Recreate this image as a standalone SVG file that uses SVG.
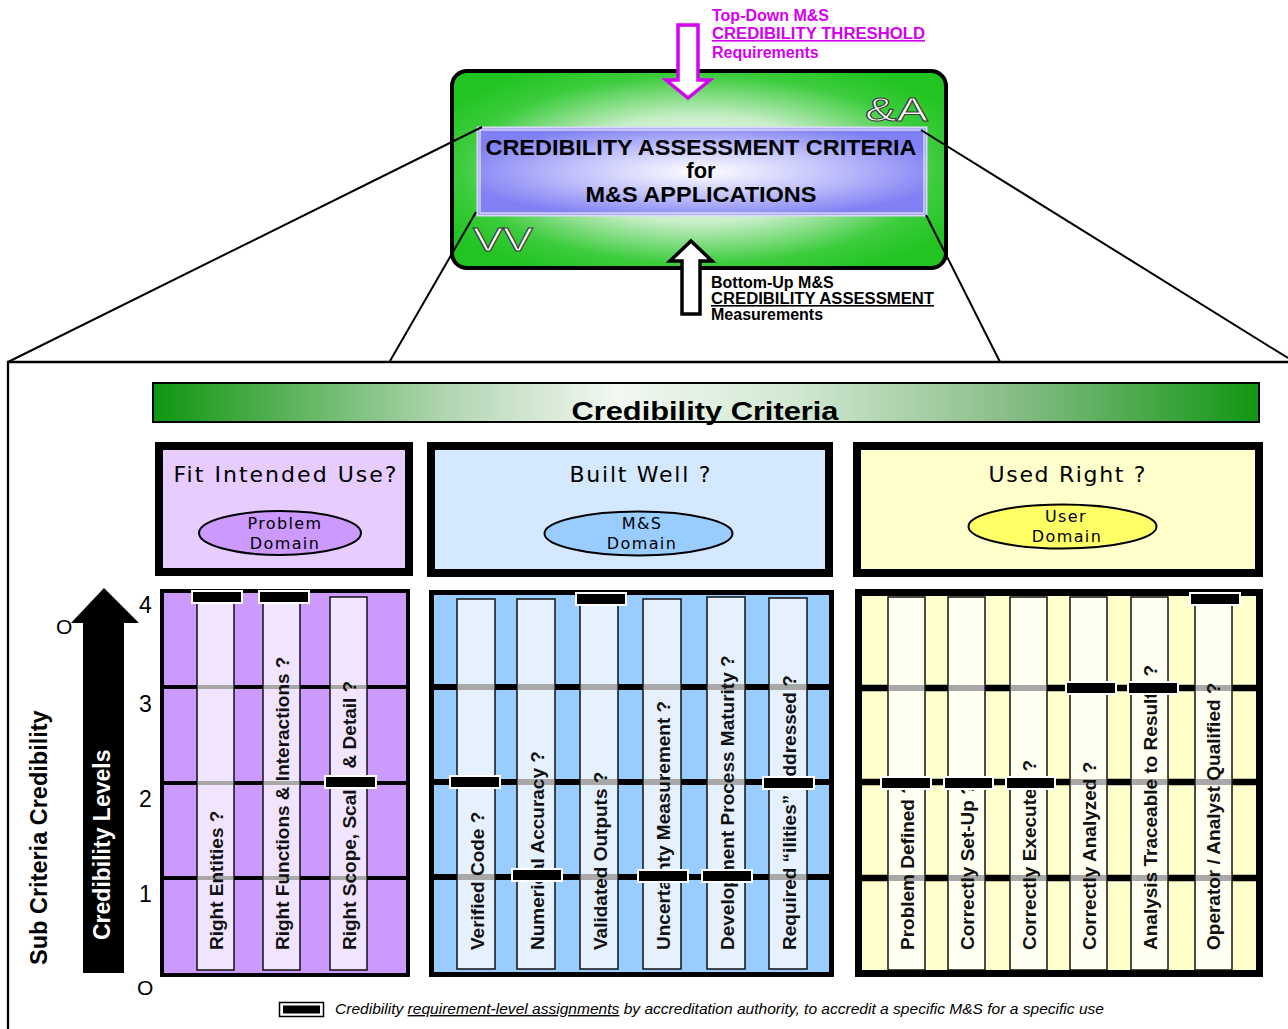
<svg xmlns="http://www.w3.org/2000/svg" width="1288" height="1029" viewBox="0 0 1288 1029">
<defs>
<radialGradient id="gGreen" cx="50%" cy="50%" r="60%">
<stop offset="0" stop-color="#ffffff"/>
<stop offset="0.45" stop-color="#c8eec8"/>
<stop offset="0.8" stop-color="#3ccc3c"/>
<stop offset="1" stop-color="#22c422"/>
</radialGradient>
<radialGradient id="gBlue" cx="50%" cy="50%" r="55%">
<stop offset="0" stop-color="#ffffff"/>
<stop offset="0.5" stop-color="#c4c4fc"/>
<stop offset="1" stop-color="#8080f4"/>
</radialGradient>
<linearGradient id="gBar" x1="0" y1="0" x2="1" y2="0">
<stop offset="0" stop-color="#0f960f"/>
<stop offset="0.27" stop-color="#b4d6b4"/>
<stop offset="0.42" stop-color="#f2f8f2"/>
<stop offset="0.58" stop-color="#d2e8d2"/>
<stop offset="0.78" stop-color="#86bc86"/>
<stop offset="1" stop-color="#129612"/>
</linearGradient>
</defs>
<style>
.b{font-family:"Liberation Sans",Arial,sans-serif;font-weight:bold}
.v{font-family:"DejaVu Sans",Verdana,sans-serif}
.col text{font-family:"Liberation Sans",Arial,sans-serif;font-weight:bold;font-size:19px;fill:#111}
.mk{fill:#000;stroke:#fff;stroke-width:2}
.hl{stroke:#000}
.gr{fill:#a8a8a8}
.pc{fill:#f1e4ff;stroke:#111;stroke-width:1.5}
.bc{fill:#e6f1ff;stroke:#111;stroke-width:1.5}
.yc{fill:#fffff2;stroke:#111;stroke-width:1.5}
.mag{fill:#d400f0;font-size:16px}
.blk{fill:#000;font-size:16px}
</style>

<!-- top central node -->
<g id="assessment-box">
<rect x="452" y="71" width="494" height="197" rx="15" fill="url(#gGreen)" stroke="#000" stroke-width="4"/>
<rect x="477.5" y="127.5" width="449" height="88" fill="url(#gBlue)" stroke="#d8d8ff" stroke-width="2"/>
<rect x="480" y="130" width="444" height="83" fill="none" stroke="#ffffff" stroke-width="1"/>
<text class="b" x="701" y="155" font-size="22" text-anchor="middle" textLength="431" lengthAdjust="spacingAndGlyphs">CREDIBILITY ASSESSMENT CRITERIA</text>
<text class="b" x="701" y="178" font-size="22" text-anchor="middle">for</text>
<text class="b" x="701" y="202" font-size="22" text-anchor="middle" textLength="231" lengthAdjust="spacingAndGlyphs">M&amp;S APPLICATIONS</text>
<text x="865" y="121" font-family="Liberation Sans,Arial,sans-serif" font-size="34" fill="#fff" stroke="#3a3a3a" stroke-width="1" textLength="63" lengthAdjust="spacingAndGlyphs">&amp;A</text>
<text x="473" y="251" font-family="Liberation Sans,Arial,sans-serif" font-size="34" fill="#fff" stroke="#3a3a3a" stroke-width="1" textLength="60" lengthAdjust="spacingAndGlyphs">VV</text>
</g>

<!-- connectors -->
<g id="connectors" fill="none" stroke="#000" stroke-width="2">
<line x1="482" y1="127" x2="8" y2="362"/>
<line x1="476" y1="212" x2="390" y2="361"/>
<line x1="921" y1="130" x2="1288" y2="358"/>
<line x1="926" y1="215" x2="1000" y2="362"/>
<path d="M8,1029 V362 H1288" stroke-width="2.3"/>
</g>

<g id="top-down-arrow">
<polygon points="678,25 698,25 698,80 710,80 688,98 666,80 678,80" fill="#fff" stroke="#d400f0" stroke-width="3.5" stroke-linejoin="miter"/>
<text class="b mag" x="712" y="21">Top-Down M&amp;S</text>
<text class="b mag" x="712" y="39" text-decoration="underline" textLength="213" lengthAdjust="spacingAndGlyphs">CREDIBILITY THRESHOLD</text>
<text class="b mag" x="712" y="58">Requirements</text>
</g>

<g id="bottom-up-arrow">
<polygon points="691,241 712,261 700,261 700,314 682,314 682,261 670,261" fill="#fff" stroke="#000" stroke-width="3.5"/>
<text class="b blk" x="711" y="288" font-size="15">Bottom-Up M&amp;S</text>
<text class="b blk" x="711" y="304" text-decoration="underline" textLength="223" lengthAdjust="spacingAndGlyphs">CREDIBILITY ASSESSMENT</text>
<text class="b blk" x="711" y="320" font-size="15">Measurements</text>
</g>

<g id="criteria-bar">
<rect x="153" y="383" width="1106" height="39" fill="url(#gBar)" stroke="#000" stroke-width="2"/>
<text class="b" x="705" y="420" font-size="26" text-anchor="middle" textLength="267" lengthAdjust="spacingAndGlyphs">Credibility Criteria</text>
</g>

<!-- header boxes -->
<g id="fit-intended-use">
<rect x="159" y="446" width="250" height="126" fill="#e6ccff" stroke="#000" stroke-width="8"/>
<text class="v" x="285" y="482" font-size="22" text-anchor="middle" textLength="223" lengthAdjust="spacing">Fit Intended Use?</text>
<ellipse cx="280" cy="533" rx="81" ry="22" fill="#cc99ff" stroke="#000" stroke-width="2"/>
<text class="v" x="285" y="529" font-size="16" text-anchor="middle" letter-spacing="1.4">Problem</text>
<text class="v" x="285" y="549" font-size="16" text-anchor="middle" letter-spacing="1.4">Domain</text>
</g>
<g id="built-well">
<rect x="431" y="446" width="398" height="127" fill="#d4e8ff" stroke="#000" stroke-width="8"/>
<text class="v" x="640" y="482" font-size="22" text-anchor="middle" textLength="141" lengthAdjust="spacing">Built Well ?</text>
<ellipse cx="638.5" cy="533.5" rx="94" ry="22" fill="#99ccff" stroke="#000" stroke-width="2"/>
<text class="v" x="642" y="529" font-size="16" text-anchor="middle" letter-spacing="1.4">M&amp;S</text>
<text class="v" x="642" y="549" font-size="16" text-anchor="middle" letter-spacing="1.4">Domain</text>
</g>
<g id="used-right">
<rect x="857" y="446" width="402" height="127" fill="#ffffcc" stroke="#000" stroke-width="8"/>
<text class="v" x="1067" y="482" font-size="22" text-anchor="middle" textLength="157" lengthAdjust="spacing">Used Right ?</text>
<ellipse cx="1062.5" cy="526.5" rx="94" ry="22" fill="#ffff66" stroke="#000" stroke-width="2"/>
<text class="v" x="1066" y="522" font-size="16" text-anchor="middle" letter-spacing="1.4">User</text>
<text class="v" x="1067" y="542" font-size="16" text-anchor="middle" letter-spacing="1.4">Domain</text>
</g>

<!-- left axis -->
<g id="axis">
<text x="56" y="634" font-family="Liberation Sans,Arial,sans-serif" font-size="21">O</text>
<polygon points="83,973 83,623 71,623 104,588 139,623 124,623 124,973" fill="#000"/>
<text class="b" transform="translate(110,940) rotate(-90)" font-size="23" fill="#fff">Credibility Levels</text>
<text class="b" transform="translate(47,965) rotate(-90)" font-size="23.5" fill="#000">Sub Criteria Credibility</text>
<g font-family="Liberation Sans,Arial,sans-serif" font-size="23" fill="#000">
<text x="139" y="613">4</text>
<text x="139" y="712">3</text>
<text x="139" y="807">2</text>
<text x="139" y="902">1</text>
</g>
<text x="137" y="995" font-family="Liberation Sans,Arial,sans-serif" font-size="21">O</text>
</g>

<!-- purple grid -->
<g id="problem-domain-grid" class="col">
<rect x="162" y="591" width="246" height="384" fill="#cc99ff" stroke="#000" stroke-width="4"/>
<g class="hl" stroke-width="4"><line x1="162" y1="687" x2="408" y2="687"/><line x1="162" y1="783" x2="408" y2="783"/><line x1="162" y1="878" x2="408" y2="878"/></g>
<rect class="pc" x="197" y="597" width="37" height="373"/>
<rect class="pc" x="263" y="597" width="37" height="373"/>
<rect class="pc" x="330" y="597" width="37" height="373"/>
<g class="gr">
<rect x="198" y="685" width="35" height="4"/><rect x="264" y="685" width="35" height="4"/><rect x="331" y="685" width="35" height="4"/>
<rect x="198" y="781" width="35" height="4"/><rect x="264" y="781" width="35" height="4"/><rect x="331" y="781" width="35" height="4"/>
<rect x="198" y="876" width="35" height="4"/><rect x="264" y="876" width="35" height="4"/><rect x="331" y="876" width="35" height="4"/>
</g>
<text transform="translate(223,950) rotate(-90)">Right Entities ?</text>
<text transform="translate(289,950) rotate(-90)">Right Functions &amp; Interactions ?</text>
<text transform="translate(356,950) rotate(-90)">Right Scope, Scale, &amp; Detail ?</text>
<rect class="mk" x="192" y="591" width="50" height="12"/>
<rect class="mk" x="259" y="591" width="50" height="12"/>
<rect class="mk" x="325" y="776" width="51" height="12"/>
</g>

<!-- blue grid -->
<g id="ms-domain-grid" class="col">
<rect x="431.5" y="592.5" width="400" height="382" fill="#99ccff" stroke="#000" stroke-width="5"/>
<g class="hl" stroke-width="6"><line x1="432" y1="687" x2="831" y2="687"/><line x1="432" y1="782" x2="831" y2="782"/><line x1="432" y1="877" x2="831" y2="877"/></g>
<rect class="bc" x="457" y="599" width="38" height="370"/>
<rect class="bc" x="517" y="599" width="38" height="370"/>
<rect class="bc" x="580" y="599" width="38" height="370"/>
<rect class="bc" x="643" y="599" width="38" height="370"/>
<rect class="bc" x="707" y="597" width="38" height="372"/>
<rect class="bc" x="769" y="598" width="38" height="371"/>
<g class="gr">
<rect x="458" y="684" width="36" height="6"/><rect x="518" y="684" width="36" height="6"/><rect x="581" y="684" width="36" height="6"/><rect x="644" y="684" width="36" height="6"/><rect x="708" y="684" width="36" height="6"/><rect x="770" y="684" width="36" height="6"/>
<rect x="458" y="779" width="36" height="6"/><rect x="518" y="779" width="36" height="6"/><rect x="581" y="779" width="36" height="6"/><rect x="644" y="779" width="36" height="6"/><rect x="708" y="779" width="36" height="6"/><rect x="770" y="779" width="36" height="6"/>
<rect x="458" y="874" width="36" height="6"/><rect x="518" y="874" width="36" height="6"/><rect x="581" y="874" width="36" height="6"/><rect x="644" y="874" width="36" height="6"/><rect x="708" y="874" width="36" height="6"/><rect x="770" y="874" width="36" height="6"/>
</g>
<text transform="translate(484,950) rotate(-90)">Verified Code ?</text>
<text transform="translate(544,950) rotate(-90)">Numerical Accuracy ?</text>
<text transform="translate(607,950) rotate(-90)">Validated Outputs ?</text>
<text transform="translate(670,950) rotate(-90)">Uncertainty Measurement ?</text>
<text transform="translate(734,950) rotate(-90)">Development Process Maturity ?</text>
<text transform="translate(796,950) rotate(-90)">Required “ilities” Addressed ?</text>
<rect class="mk" x="450" y="776" width="50" height="12"/>
<rect class="mk" x="512" y="869" width="50" height="12"/>
<rect class="mk" x="576" y="593" width="50" height="12"/>
<rect class="mk" x="638" y="870" width="50" height="12"/>
<rect class="mk" x="702" y="870" width="50" height="12"/>
<rect class="mk" x="763" y="777" width="51" height="12"/>
</g>

<!-- yellow grid -->
<g id="user-domain-grid" class="col">
<rect x="858.5" y="592.5" width="401" height="381" fill="#ffffcc" stroke="#000" stroke-width="7"/>
<g class="hl" stroke-width="6.5"><line x1="859" y1="688" x2="1259" y2="688"/><line x1="859" y1="782" x2="1259" y2="782"/><line x1="859" y1="878" x2="1259" y2="878"/></g>
<rect class="yc" x="888" y="597" width="37" height="373"/>
<rect class="yc" x="948" y="597" width="37" height="373"/>
<rect class="yc" x="1010" y="597" width="37" height="373"/>
<rect class="yc" x="1070" y="597" width="37" height="373"/>
<rect class="yc" x="1131" y="597" width="37" height="373"/>
<rect class="yc" x="1195" y="597" width="37" height="373"/>
<g class="gr">
<rect x="889" y="685" width="35" height="6"/><rect x="949" y="685" width="35" height="6"/><rect x="1011" y="685" width="35" height="6"/><rect x="1071" y="685" width="35" height="6"/><rect x="1132" y="685" width="35" height="6"/><rect x="1196" y="685" width="35" height="6"/>
<rect x="889" y="779" width="35" height="6"/><rect x="949" y="779" width="35" height="6"/><rect x="1011" y="779" width="35" height="6"/><rect x="1071" y="779" width="35" height="6"/><rect x="1132" y="779" width="35" height="6"/><rect x="1196" y="779" width="35" height="6"/>
<rect x="889" y="875" width="35" height="6"/><rect x="949" y="875" width="35" height="6"/><rect x="1011" y="875" width="35" height="6"/><rect x="1071" y="875" width="35" height="6"/><rect x="1132" y="875" width="35" height="6"/><rect x="1196" y="875" width="35" height="6"/>
</g>
<text transform="translate(914,950) rotate(-90)">Problem Defined ?</text>
<text transform="translate(974,950) rotate(-90)">Correctly Set-Up ?</text>
<text transform="translate(1036,950) rotate(-90)">Correctly Executed ?</text>
<text transform="translate(1096,950) rotate(-90)">Correctly Analyzed ?</text>
<text transform="translate(1157,950) rotate(-90)">Analysis Traceable to Results ?</text>
<text transform="translate(1220,950) rotate(-90)">Operator / Analyst Qualified ?</text>
<rect class="mk" x="881" y="777" width="50" height="12"/>
<rect class="mk" x="944" y="777" width="49" height="12"/>
<rect class="mk" x="1006" y="777" width="49" height="12"/>
<rect class="mk" x="1066" y="682" width="50" height="12"/>
<rect class="mk" x="1128" y="682" width="50" height="12"/>
<rect class="mk" x="1190" y="593" width="50" height="12"/>
</g>

<!-- legend -->
<g id="legend">
<rect x="279.5" y="1002.5" width="44" height="14" fill="#fff" stroke="#000" stroke-width="1.5"/>
<rect x="283" y="1005.5" width="37" height="8" fill="#000"/>
<text x="335" y="1014" font-family="Liberation Sans,Arial,sans-serif" font-style="italic" font-size="14" textLength="769" lengthAdjust="spacingAndGlyphs">Credibility <tspan text-decoration="underline">requirement-level assignments</tspan> by accreditation authority, to accredit a specific M&amp;S for a specific use</text>
</g>
</svg>
